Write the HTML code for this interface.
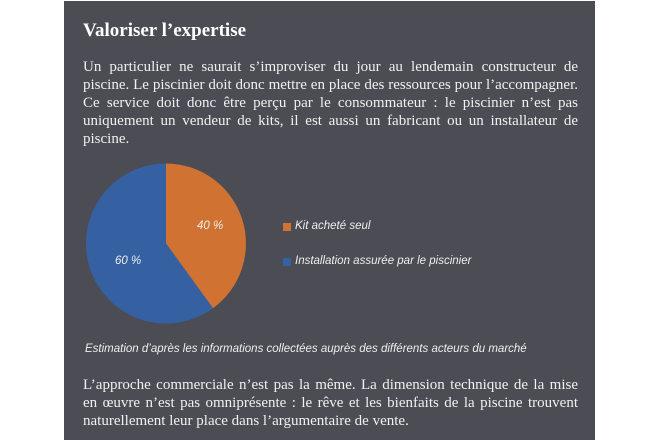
<!DOCTYPE html>
<html><head><meta charset="utf-8"><style>
body{margin:0;width:660px;height:440px;background:#fff;position:relative;overflow:hidden}
.panel{position:absolute;left:64px;top:1px;width:531px;height:439px;background:#4c4c55}
.serif{position:absolute;left:19px;width:495px;font-family:"Liberation Serif",serif;color:#f0f0f0;font-size:15px;line-height:18px}
.serif div{text-align:justify;text-align-last:justify;white-space:nowrap}
.serif div.l{text-align-last:left}
h1{position:absolute;left:19px;top:19px;margin:0;font-family:"Liberation Serif",serif;font-size:19px;font-weight:bold;color:#fff}
.sans{position:absolute;font-family:"Liberation Sans",sans-serif;font-style:italic;font-size:11.5px;color:#eee;white-space:nowrap}
.sq{position:absolute;width:8px;height:8px}
</style></head><body>
<div class="panel">
<h1>Valoriser l’expertise</h1>
<div class="serif" style="top:57px">
<div>Un particulier ne saurait s’improviser du jour au lendemain constructeur de</div>
<div>piscine. Le piscinier doit donc mettre en place des ressources pour l’accompagner.</div>
<div>Ce service doit donc être perçu par le consommateur : le piscinier n’est pas</div>
<div>uniquement un vendeur de kits, il est aussi un fabricant ou un installateur de</div>
<div class="l">piscine.</div>
</div>
<svg style="position:absolute;left:0;top:0" width="531" height="439">
<path d="M102 242.5 L102 162.5 A80 80 0 0 1 149 307.2 Z" fill="#d07232"/>
<path d="M102 242.5 L149 307.2 A80 80 0 1 1 102 162.5 Z" fill="#3561a2"/>
</svg>
<div class="sans" style="left:133px;top:219px">40 %</div>
<div class="sans" style="left:51px;top:254px">60 %</div>
<div class="sq" style="left:219px;top:222px;background:#d07232"></div>
<div class="sans" style="left:231px;top:219px">Kit acheté seul</div>
<div class="sq" style="left:219px;top:257px;background:#3561a2"></div>
<div class="sans" style="left:231px;top:254px">Installation assurée par le piscinier</div>
<div class="sans" style="left:21px;top:342px">Estimation d’après les informations collectées auprès des différents acteurs du marché</div>
<div class="serif" style="top:375px">
<div>L’approche commerciale n’est pas la même. La dimension technique de la mise</div>
<div>en œuvre n’est pas omniprésente : le rêve et les bienfaits de la piscine trouvent</div>
<div class="l">naturellement leur place dans l’argumentaire de vente.</div>
</div>
</div>
</body></html>
